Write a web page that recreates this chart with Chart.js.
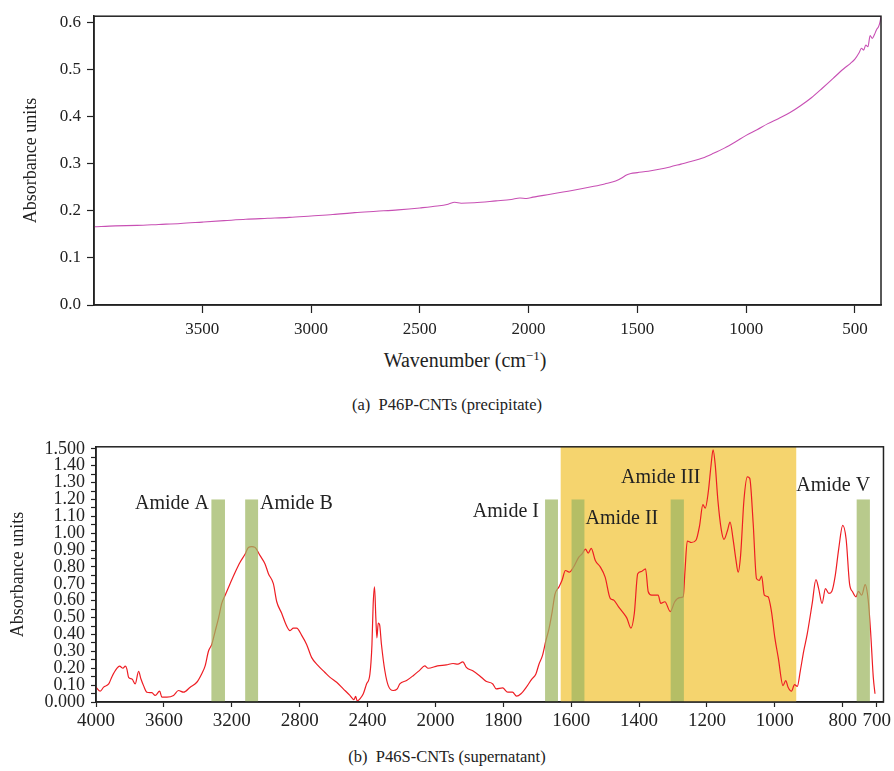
<!doctype html>
<html lang="en">
<head>
<meta charset="utf-8">
<title>FTIR spectra – P46 CNTs</title>
<style>
  *{box-sizing:border-box;margin:0;padding:0}
  body{width:894px;height:771px;background:#fff;position:relative;overflow:hidden;
       font-family:'Liberation Serif',serif;color:#222}
  canvas{position:absolute;left:0}
  #ca{top:0}
  #cb{top:430px}
  .txt{position:absolute;white-space:nowrap;text-align:center}
  #xtitle{left:315px;width:300px;top:349px;font-size:20px}
  #xtitle sup{font-size:13px;vertical-align:7px;line-height:0}
  #capA{left:0;width:894px;top:395px;font-size:16.5px}
  #capB{left:0;width:894px;top:747px;font-size:16.5px}
</style>
</head>
<body>

<canvas id="ca" width="894" height="340"></canvas>
<div class="txt" id="xtitle">Wavenumber (cm<sup>−1</sup>)</div>
<div class="txt" id="capA">(a)&nbsp; P46P-CNTs (precipitate)</div>

<canvas id="cb" width="894" height="310"></canvas>
<div class="txt" id="capB">(b)&nbsp; P46S-CNTs (supernatant)</div>

<script src="https://cdn.jsdelivr.net/npm/chart.js"></script>
<script>
// ---- (a) precipitate spectrum
const WAVE_A = [3998,3900,3800,3700,3600,3500,3400,3300,3200,3100,3000,2900,2800,2700,2600,2500,
  2420,2370,2340,2310,2250,2150,2080,2040,2010,1980,1900,1800,1700,1650,1600,1570,1550,1530,1500,
  1450,1400,1350,1300,1250,1200,1150,1100,1050,1000,950,900,850,800,750,700,650,600,570,550,520,
  500,480,470,460,450,440,430,420,410,400,392,385,380];
const ABS_A = [0.166,0.168,0.169,0.171,0.173,0.176,0.179,0.182,0.184,0.186,0.189,0.192,0.196,0.199,0.202,0.206,
  0.210,0.214,0.218,0.216,0.217,0.221,0.224,0.227,0.226,0.229,0.235,0.243,0.252,0.257,0.263,0.270,0.276,0.279,0.281,
  0.284,0.288,0.293,0.299,0.305,0.312,0.322,0.333,0.346,0.360,0.372,0.385,0.396,0.408,0.423,0.440,0.460,0.481,0.494,0.502,0.513,
  0.522,0.536,0.545,0.541,0.552,0.548,0.572,0.566,0.574,0.585,0.590,0.600,0.612];
const X_TICKS_A = [3500,3000,2500,2000,1500,1000,500];
const Y_TICKS_A = [0,0.1,0.2,0.3,0.4,0.5,0.6];

// ---- (b) supernatant spectrum
const WAVE_B = [4000,3975,3955,3925,3906,3876,3861,3841,3827,3818,3808,3788,3769,3749,3735,3720,3700,3671,3651,3625,
  3612,3582,3543,3514,3484,3445,3406,3376,3357,3337,3318,3298,3278,3259,3239,3210,3180,3151,3121,3102,3082,3063,3033,
  3004,2984,2955,2935,2906,2880,2857,2837,2818,2788,2759,2729,2690,2651,2621,2582,2543,2504,2480,2470,2461,2445,2425,
  2406,2386,2374,2367,2359,2351,2345,2337,2329,2318,2298,2278,2249,2225,2210,2170,2131,2092,2063,2043,1994,
  1968,1948,1934,1919,1909,1890,1870,1851,1831,1821,1802,1787,1773,1761,1748,1732,1716,1704,1695,1685,1675,1665,
  1656,1648,1636,1627,1617,1606,1592,1578,1568,1558,1550,1541,1529,1514,1500,1485,1475,1461,1446,1436,1424,1414,
  1404,1393,1381,1373,1363,1344,1336,1324,1308,1295,1280,1270,1265,1258,1246,1232,1222,1212,1205,1196,1188,1182,
  1176,1168,1158,1150,1140,1132,1123,1115,1108,1101,1091,1081,1074,1064,1054,1046,1039,1031,1020,1010,1000,990,
  976,968,961,951,942,934,925,915,905,890,879,871,861,851,841,832,822,812,800,790,780,771,761,754,744,734,725,718,710,705];
const ABS_B = [0.088,0.064,0.088,0.107,0.150,0.200,0.212,0.200,0.212,0.195,0.146,0.136,0.107,0.181,0.136,0.097,0.058,0.055,0.039,0.064,
  0.029,0.029,0.039,0.068,0.058,0.088,0.117,0.169,0.214,0.302,0.341,0.419,0.497,0.584,0.633,0.701,0.769,0.828,0.877,0.916,0.921,0.916,0.867,
  0.818,0.760,0.701,0.594,0.526,0.458,0.423,0.438,0.438,0.395,0.341,0.263,0.214,0.175,0.146,0.117,0.078,0.039,0.014,0.033,0.006,0.019,0.049,
  0.107,0.166,0.341,0.575,0.682,0.497,0.380,0.468,0.458,0.341,0.185,0.097,0.068,0.078,0.107,0.127,0.156,0.189,0.214,0.200,0.214,
  0.220,0.228,0.224,0.238,0.205,0.185,0.156,0.123,0.107,0.078,0.084,0.058,0.058,0.035,0.049,0.088,0.136,0.166,0.224,0.273,0.360,0.438,
  0.536,0.637,0.682,0.721,0.779,0.769,0.803,0.857,0.877,0.906,0.882,0.910,0.838,0.799,0.740,0.614,0.604,0.565,0.526,0.497,0.438,0.526,
  0.760,0.773,0.789,0.653,0.633,0.633,0.584,0.594,0.536,0.594,0.618,0.623,0.769,0.954,0.945,0.960,1.042,1.169,1.149,1.247,1.403,1.494,
  1.412,1.198,1.023,0.964,1.013,1.066,0.964,0.847,0.769,0.867,1.198,1.334,1.325,1.062,0.730,0.721,0.746,0.633,0.623,0.536,0.380,0.263,
  0.097,0.127,0.088,0.064,0.103,0.092,0.185,0.302,0.399,0.584,0.725,0.672,0.584,0.672,0.643,0.656,0.750,0.906,1.046,0.964,0.701,0.653,0.623,0.656,0.633,0.695,0.604,0.419,0.146,0.049];
const X_TICKS_B = [4000,3600,3200,2800,2400,2000,1800,1600,1400,1200,1000,800,700];
const Y_TICKS_B = [0,0.1,0.2,0.3,0.4,0.5,0.6,0.7,0.8,0.9,1.0,1.1,1.2,1.3,1.4,1.5];
const Y_LABELS_B = ['0.000','0.10','0.20','0.30','0.40','0.50','0.60','0.70','0.80','0.90','1.00','1.10','1.20','1.30','1.40','1.500'];

// shaded fingerprint region and amide bands (cm-1), bands reach 1.20
const REGION = [1631, 937];
const BANDS = [[3320,3240],[3121,3045],[1677,1639],[1599,1561],[1307,1268],[759,720]];
const BAND_TOP = 1.2;
const BAND_NAMES = ['Amide A','Amide B','Amide I','Amide II','Amide III','Amide V'];
const NAME_AT = [[3335,1.175,'right'],[3034,1.175,'left'],[1695,1.126,'right'],[1558,1.087,'left'],[1453,1.331,'left'],[937,1.282,'left']];

const SERIF = "'Liberation Serif', serif";
const INK = '#222';
Chart.defaults.font.family = SERIF;
Chart.defaults.color = INK;

// x axis of (b) is compressed by half above 2000 cm-1
const BREAK = 2000;
const fold = w => w > BREAK ? BREAK + (w - BREAK) / 2 : w;
class FoldScale extends Chart.LinearScale {
  getPixelForValue(v){
    const a = fold(this.max), b = fold(this.min);
    return this.getPixelForDecimal((a - fold(v)) / (a - b));
  }
  getValueForPixel(p){
    const a = fold(this.max), b = fold(this.min);
    const u = a - this.getDecimalForPixel(p) * (a - b);
    return u > BREAK ? BREAK + (u - BREAK) * 2 : u;
  }
}
FoldScale.id = 'fold';
FoldScale.defaults = Chart.LinearScale.defaults;
Chart.register(FoldScale);

const frame = {id:'frame', afterDraw(c){
  const {ctx, chartArea:a} = c;
  ctx.save(); ctx.strokeStyle = INK; ctx.lineWidth = 1.5;
  ctx.strokeRect(a.left, a.top, a.right - a.left, a.bottom - a.top);
  ctx.restore();
}};

const bands = {id:'bands',
  beforeDatasetsDraw(c){
    const {ctx, chartArea:a, scales:{x}} = c;
    const l = x.getPixelForValue(REGION[0]), r = x.getPixelForValue(REGION[1]);
    ctx.save(); ctx.fillStyle = '#f5d46e';
    ctx.fillRect(l, a.top, r - l, a.bottom - a.top);
    ctx.restore();
  },
  afterDatasetsDraw(c){
    const {ctx, scales:{x,y}} = c;
    ctx.save();
    ctx.fillStyle = 'rgba(157,183,97,0.73)';
    const t = y.getPixelForValue(BAND_TOP), b = y.getPixelForValue(0);
    BANDS.forEach(([w0,w1]) => {
      const l = x.getPixelForValue(w0), r = x.getPixelForValue(w1);
      ctx.fillRect(l, t, r - l, b - t);
    });
    ctx.fillStyle = INK; ctx.font = '20px ' + SERIF; ctx.textBaseline = 'middle';
    BAND_NAMES.forEach((s,i) => {
      const [w,v,al] = NAME_AT[i];
      ctx.textAlign = al;
      ctx.fillText(s, x.getPixelForValue(w), y.getPixelForValue(v));
    });
    ctx.restore();
  }
};

const tickGrid = len => ({display:true, drawOnChartArea:false, drawTicks:true, tickLength:len, tickColor:INK, tickWidth:1.2});

new Chart(document.getElementById('ca'), {
  type:'line',
  data:{datasets:[{data:WAVE_A.map((w,i) => ({x:w, y:ABS_A[i]})),
    borderColor:'#c850b4', borderWidth:1.1, pointRadius:0, cubicInterpolationMode:'monotone'}]},
  options:{
    responsive:false, animation:false,
    layout:{padding:{top:14, right:13, left:0, bottom:0}},
    plugins:{legend:{display:false}, tooltip:{enabled:false}},
    scales:{
      x:{type:'linear', reverse:true, min:380, max:3998,
        afterBuildTicks:s => { s.ticks = X_TICKS_A.map(v => ({value:v})); },
        afterFit:s => { s.height = 35; },
        grid:tickGrid(8), border:{color:INK, width:1.5},
        ticks:{font:{size:17}, maxRotation:0, autoSkip:false, padding:6, callback:v => String(v)}},
      y:{min:0, max:0.613,
        afterBuildTicks:s => { s.ticks = Y_TICKS_A.map(v => ({value:v})); },
        afterFit:s => { s.width = 94; },
        grid:tickGrid(7), border:{color:INK, width:1.5},
        ticks:{font:{size:17}, padding:6, callback:v => v.toFixed(1)},
        title:{display:true, text:'Absorbance units', font:{size:18}, padding:{top:20, bottom:0}}}
    }
  },
  plugins:[frame]
});

new Chart(document.getElementById('cb'), {
  type:'line',
  data:{datasets:[{data:WAVE_B.map((w,i) => ({x:w, y:ABS_B[i]})),
    borderColor:'#ee1d23', borderWidth:1.2, pointRadius:0, cubicInterpolationMode:'monotone'}]},
  options:{
    responsive:false, animation:false,
    layout:{padding:{top:13, right:7, left:0, bottom:0}},
    plugins:{legend:{display:false}, tooltip:{enabled:false}},
    scales:{
      x:{type:'fold', min:680, max:4000,
        afterBuildTicks:s => { s.ticks = X_TICKS_B.map(v => ({value:v})); },
        afterFit:s => { s.height = 38; },
        grid:tickGrid(5), border:{color:INK, width:1.5},
        ticks:{font:{size:19}, maxRotation:0, autoSkip:false, padding:3, callback:v => String(v)}},
      y:{min:0, max:1.512,
        afterBuildTicks:s => {
          const t = [];
          Y_TICKS_B.forEach((v,i) => { t.push({value:v}); if (i < Y_TICKS_B.length - 1) t.push({value:(v + Y_TICKS_B[i+1]) / 2}); });
          s.ticks = t;
        },
        afterFit:s => { s.width = 96; },
        grid:tickGrid(5), border:{color:INK, width:1.5},
        ticks:{font:{size:18}, padding:6, autoSkip:false,
          callback:v => { const k = Y_TICKS_B.indexOf(v); return k < 0 ? '' : Y_LABELS_B[k]; }},
        title:{display:true, text:'Absorbance units', font:{size:18}, padding:{top:7, bottom:0}}}
    }
  },
  plugins:[bands, frame]
});
</script>
</body>
</html>
